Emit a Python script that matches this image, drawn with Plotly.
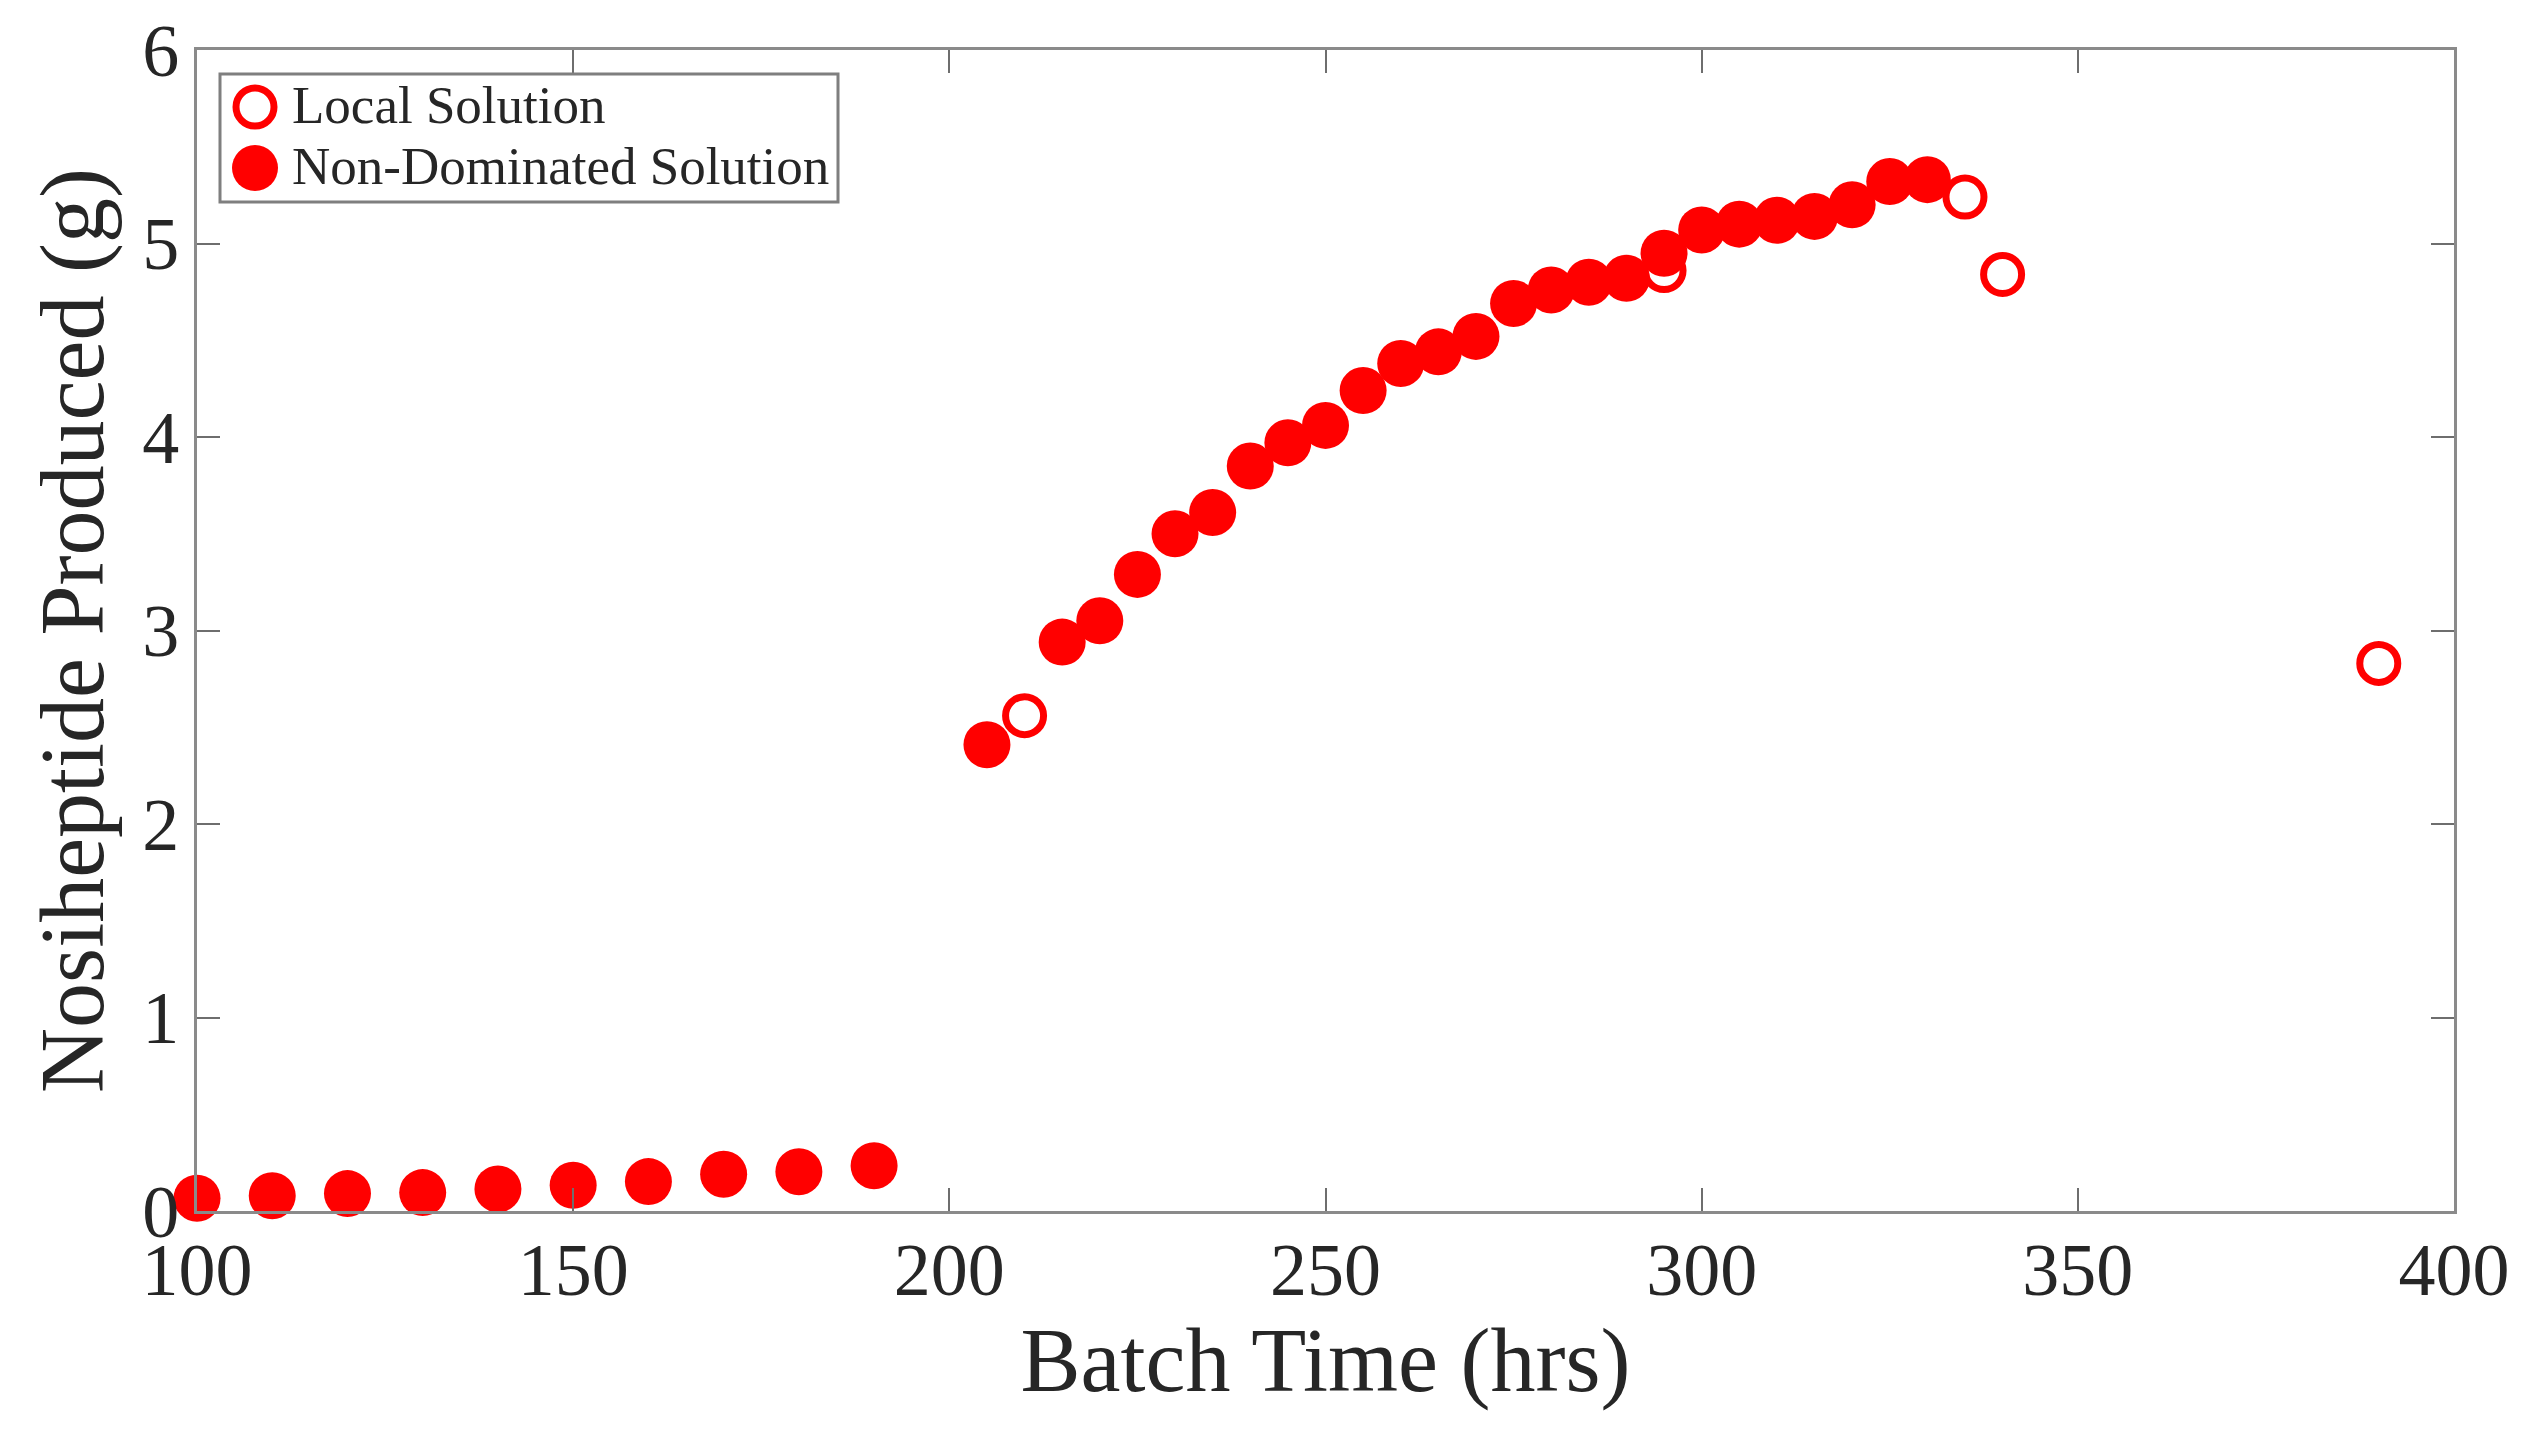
import plotly.graph_objects as go

# ---- data ----
nondom_time = [100, 110, 120, 130, 140, 150, 160, 170, 180, 190,
               205, 215, 220, 225, 230, 235, 240, 245, 250, 255,
               260, 265, 270, 275, 280, 285, 290, 295, 300, 305,
               310, 315, 320, 325, 330]
nondom_prod = [0.066, 0.079, 0.090, 0.095, 0.114, 0.133, 0.152, 0.190, 0.203, 0.234,
               2.41, 2.94, 3.05, 3.29, 3.50, 3.61, 3.85, 3.97, 4.06, 4.24,
               4.38, 4.44, 4.52, 4.69, 4.76, 4.80, 4.82, 4.95, 5.07, 5.10,
               5.12, 5.14, 5.20, 5.32, 5.33]

local_time = [210, 295, 335, 340, 390]
local_prod = [2.56, 4.86, 5.24, 4.84, 2.83]

x_ticks = [100, 150, 200, 250, 300, 350, 400]
y_ticks = [0, 1, 2, 3, 4, 5, 6]

legend_labels = ["Local Solution", "Non-Dominated Solution"]

# ---- layout geometry (pixels, target picture coordinates) ----
W, H = 2534, 1449
OFF = 8  # page body margin
PL, PR, PT, PB = 197, 2454, 50, 1211  # plot area edges in the picture
L, T = PL - OFF, PT - OFF
R = W + OFF - PR
B = H + OFF - PB
PW, PH = PR - PL, PB - PT

def px(xp):
    return (xp - PL) / PW

def py(yp):
    return (PB - yp) / PH

RED = "#ff0000"
FONT = "Liberation Serif"
TXT = "#262626"
AXC = "#8a8a8a"

fig = go.Figure()
fig.add_trace(go.Scatter(
    x=local_time, y=local_prod, mode="markers", name=legend_labels[0],
    marker=dict(symbol="circle-open", size=38, color=RED, line=dict(width=7, color=RED)),
    showlegend=False, cliponaxis=False))
fig.add_trace(go.Scatter(
    x=nondom_time, y=nondom_prod, mode="markers", name=legend_labels[1],
    marker=dict(symbol="circle", size=47, color=RED, line=dict(width=0)),
    showlegend=False, cliponaxis=False))

axis_common = dict(
    automargin=False,
    showgrid=False, zeroline=False, showline=True, linecolor=AXC, linewidth=3,
    mirror="ticks", ticks="inside", ticklen=23, tickwidth=2, tickcolor="#6e6e6e",
    tickfont=dict(family=FONT, size=74, color=TXT),
)

fig.update_layout(
    width=W, height=H,
    margin=dict(l=L, r=R, t=T, b=B, pad=0, autoexpand=False),
    paper_bgcolor="white", plot_bgcolor="white",
    xaxis=dict(range=[100, 400], tickvals=x_ticks, ticktext=[str(v) for v in x_ticks],
               ticklabelstandoff=-8,
               title=dict(text="Batch Time (hrs)", font=dict(family=FONT, size=90, color=TXT),
                          standoff=18),
               **axis_common),
    yaxis=dict(range=[0, 6], tickvals=y_ticks, ticktext=[str(v) for v in y_ticks],
               title=dict(text="Nosiheptide Produced (g)", font=dict(family=FONT, size=90, color=TXT),
                          standoff=9),
               **axis_common),
    showlegend=False,
)

# ---- legend box (drawn manually so the symbols keep their plotted size) ----
shapes = [
    dict(type="rect", xref="paper", yref="paper", x0=px(220), x1=px(838), y0=py(202), y1=py(74),
         line=dict(color="#7f7f7f", width=3), fillcolor="white", layer="above"),
    dict(type="circle", xref="paper", yref="paper", xsizemode="pixel", ysizemode="pixel",
         xanchor=px(255), yanchor=py(107), x0=-19, x1=19, y0=-19, y1=19,
         line=dict(color=RED, width=7), fillcolor="rgba(0,0,0,0)", layer="above"),
    dict(type="circle", xref="paper", yref="paper", xsizemode="pixel", ysizemode="pixel",
         xanchor=px(255), yanchor=py(168), x0=-23, x1=23, y0=-23, y1=23,
         line=dict(color=RED, width=0), fillcolor=RED, layer="above"),
]
annotations = [
    dict(text=legend_labels[0], xref="paper", yref="paper", x=px(290), y=py(105),
         xanchor="left", yanchor="middle", showarrow=False,
         font=dict(family=FONT, size=53, color=TXT)),
    dict(text=legend_labels[1], xref="paper", yref="paper", x=px(290), y=py(166),
         xanchor="left", yanchor="middle", showarrow=False,
         font=dict(family=FONT, size=53, color=TXT)),
]
fig.update_layout(shapes=shapes, annotations=annotations)

fig.write_html("out.html")
